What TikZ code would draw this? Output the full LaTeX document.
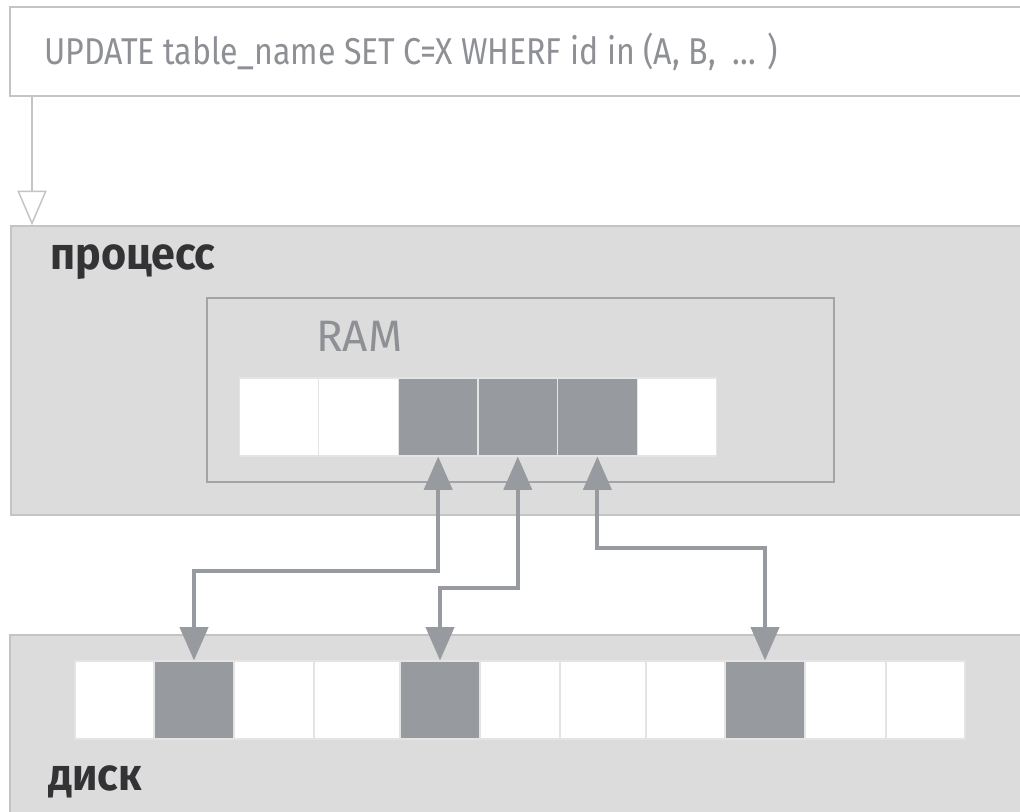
\documentclass[tikz,border=0pt]{standalone}
\usepackage{fontspec}
\setmainfont{Fira Sans}
\newfontfamily\condfont[FakeStretch=0.86]{Fira Sans}
\newfontfamily\labfont[FakeStretch=0.95]{Fira Sans}
\usetikzlibrary{arrows.meta}
\definecolor{boxfill}{HTML}{DCDCDC}
\definecolor{boxline}{HTML}{C4C4C4}
\definecolor{darkcell}{HTML}{979A9E}
\definecolor{sepline}{HTML}{E4E4E4}
\definecolor{txtgray}{HTML}{8E9095}
\definecolor{txtdark}{HTML}{333336}
\definecolor{ramline}{HTML}{A2A4A8}
\tikzset{
  panel/.style={draw=boxline, line width=1.2pt, fill=boxfill, inner sep=0pt},
  topbox/.style={draw=boxline, line width=1.2pt, fill=white, inner sep=0pt},
  rambox/.style={draw=ramline, line width=1pt, fill=boxfill, inner sep=0pt},
  cellw/.style={draw=sepline, line width=0.8pt, fill=white, inner sep=0pt, minimum height=58.5pt},
  celld/.style={draw=sepline, line width=0.8pt, fill=darkcell, inner sep=0pt, minimum height=58.5pt},
  conn/.style={draw=darkcell, line width=3pt,
    {Triangle[width=21pt,length=25pt]}-{Triangle[width=21pt,length=25pt]},
    color=darkcell},
  openarrow/.style={draw=boxline, line width=1.1pt,
    -{Triangle[open,width=22pt,length=26pt,fill=white]}},
  title/.style={inner sep=0pt, anchor=base west, text=txtdark, font=\labfont\bfseries\fontsize{34}{38}\selectfont},
}
\begin{document}
\begin{tikzpicture}[x=0.75pt,y=-0.75pt]
\useasboundingbox (0,0) rectangle (1020,811);
\clip (0,0) rectangle (1020,811);
% top query box
\node[topbox, minimum width=765pt, minimum height=66.75pt] (query) at (520,51.5) {};
\node[inner sep=0pt, anchor=base west, text=txtgray, font=\condfont\fontsize{28}{32}\selectfont] (qtext) at (44,64) {UPDATE table\_name SET C=X WHERF id in (A, B,\ \ ... )};
% process panel
\node[panel, minimum width=764.25pt, minimum height=216.75pt] (proc) at (520.5,370.5) {};
\node[title] (proclab) at (50,269) {процесс};
% RAM box
\node[rambox, minimum width=470.25pt, minimum height=138pt] (ram) at (520.5,390) {};
\node[inner sep=0pt, anchor=base west, text=txtgray, font=\fontsize{33}{36}\selectfont] (ramlab) at (316,351) {RAM};
% RAM cells
\node[cellw, minimum width=59.6pt] (r1) at (279,417) {};
\node[cellw, minimum width=59.6pt] (r2) at (358.6,417) {};
\node[celld, minimum width=59.6pt] (r3) at (438.2,417) {};
\node[celld, minimum width=59.6pt] (r4) at (517.8,417) {};
\node[celld, minimum width=59.6pt] (r5) at (597.4,417) {};
\node[cellw, minimum width=59.6pt] (r6) at (677,417) {};
% disk panel
\node[panel, minimum width=765pt, minimum height=146.25pt] (disk) at (520,732.5) {};
\node[title] (disklab) at (48,790) {диск};
% disk cells
\node[cellw, minimum width=59.25pt] (d1) at (114.5,700) {};
\node[celld, minimum width=60pt] (d2) at (194,700) {};
\node[cellw, minimum width=60pt] (d3) at (274,700) {};
\node[cellw, minimum width=64.5pt] (d4) at (357,700) {};
\node[celld, minimum width=60pt] (d5) at (440,700) {};
\node[cellw, minimum width=60pt] (d6) at (520,700) {};
\node[cellw, minimum width=64.5pt] (d7) at (603,700) {};
\node[cellw, minimum width=59.25pt] (d8) at (685.5,700) {};
\node[celld, minimum width=60pt] (d9) at (765,700) {};
\node[cellw, minimum width=60.75pt] (d10) at (845.5,700) {};
\node[cellw, minimum width=59.25pt] (d11) at (925.5,700) {};
% open arrow from query to process
\coordinate (qa) at (32,96);
\draw[openarrow] (qa) -- (qa |- proc.north);
% connectors
\coordinate (k1) at (438.2,571);
\coordinate (k2) at (517.8,588);
\coordinate (k3) at (597.4,548);
\draw[conn] (r3.south) |- (k1) -| (d2.north);
\draw[conn] (r4.south) |- (k2) -| (d5.north);
\draw[conn] (r5.south) |- (k3) -| (d9.north);
\end{tikzpicture}
\end{document}
